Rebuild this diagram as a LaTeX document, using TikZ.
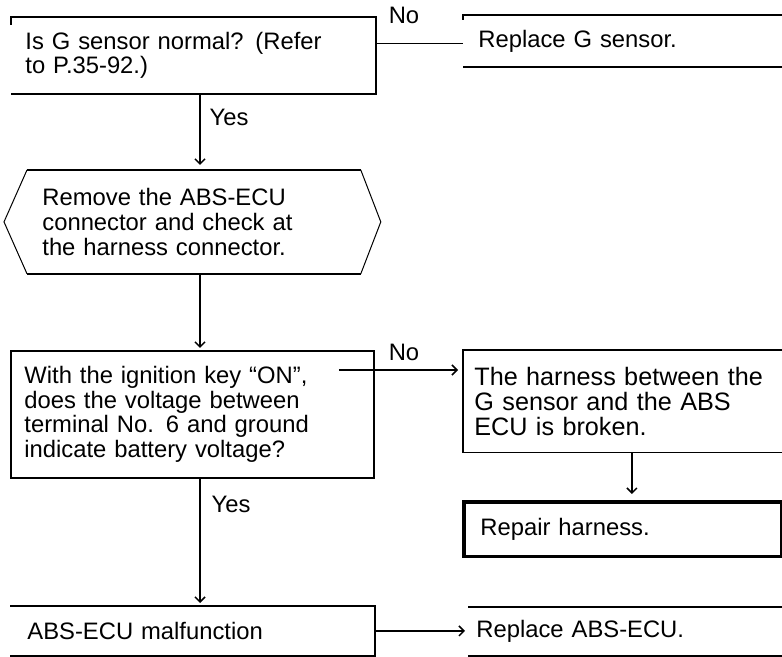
\documentclass[tikz,border=0pt]{standalone}
\usepackage{fontspec}
\setmainfont{Liberation Sans}[WordSpace=1.5]
\newfontfamily\plainsans{Liberation Sans}
\usetikzlibrary{arrows.meta}

\begin{document}
\begin{tikzpicture}[x=0.5pt,y=-0.5pt,
    txt/.style={anchor=north west,inner ysep=0pt,align=left,font=\fontsize{11.9}{12.3}\selectfont},
    lbl/.style={inner sep=0pt,font=\fontsize{11.9}{12.3}\selectfont},
    flow/.style={line width=0.75pt,-{Straight Barb[length=2.5pt,width=5pt]}},
    edge/.style={line width=0.75pt},
    rim/.style={line width=1.2pt}]
  \useasboundingbox (0,0) rectangle (782,657);
  \coordinate (col) at (200,0);

  % Draw nodes
  \node[txt,inner xsep=7pt,text width=168pt,minimum height=38pt] (chk1) at (11,17)
    {Is G sensor normal? (Refer\\to P.35-92.)};
  \node[txt,inner xsep=7.5pt,text width=153.5pt,minimum height=25.5pt] (rep1) at (463,15)
    {Replace G sensor.};
  \node[txt,inner xsep=7.5pt,text width=151.5pt,minimum height=51.5pt] (hx) at (27,170)
    {Remove the ABS-ECU\\connector and check at\\the harness connector.};
  \node[txt,inner xsep=6.5pt,text width=168pt,minimum height=63pt] (chk2) at (11,351)
    {With the ignition key “ON”,\\does the voltage between\\terminal No. 6 and ground\\indicate battery voltage?};
  \node[txt,inner xsep=5.5pt,text width=157.5pt,minimum height=51pt,
        font=\plainsans\fontsize{12.6}{12.5}\selectfont] (brk) at (463,350)
    {The harness between the\\G sensor and the ABS\\ECU is broken.};
  \node[txt,inner xsep=8pt,text width=142.5pt,minimum height=27pt] (rph) at (464,502)
    {Repair harness.};
  \node[txt,inner xsep=8.5pt,text width=165pt,minimum height=24.5pt] (fail) at (10,606)
    {ABS-ECU malfunction};
  \node[txt,inner xsep=4pt,text width=158pt,minimum height=24pt] (rep2) at (468,607)
    {Replace ABS-ECU.};

  % Draw outlines
  \draw[rim] ([yshift=-4pt]chk1.north west) -- (chk1.north west) -- (chk1.north east)
    -- (chk1.south east) -- (chk1.south west);
  \draw[rim] ([yshift=-2.5pt]rep1.north west) -- (rep1.north west) -- (rep1.north east);
  \draw[rim] (rep1.south west) -- (rep1.south east);
  \draw[line width=0.5pt] (hx.north west) -- ([xshift=-11.5pt]hx.west) -- (hx.south west);
  \draw[line width=0.5pt] (hx.north east) -- ([xshift=10pt]hx.east) -- (hx.south east);
  \draw[rim] (hx.north west) -- (hx.north east);
  \draw[rim] (hx.south west) -- (hx.south east);
  \draw[rim] (chk2.north west) rectangle (chk2.south east);
  \draw[line width=0.6pt] (brk.north west) rectangle (brk.south east);
  \draw[line width=1.6pt] (rph.north west) rectangle (rph.south east);
  \draw[rim] (fail.north west) -- (fail.north east) -- (fail.south east) -- (fail.south west);
  \foreach \s in {north,south} \draw[rim] (rep2.\s\space west) -- (rep2.\s\space east);

  % Draw edges
  \coordinate (no1) at ([yshift=6pt]chk1.east);
  \draw[edge] (no1) -- (no1 -| rep1.west);
  \draw[flow,shorten >=2.5pt] (chk1.south -| col) -- (hx.north -| col);
  \draw[flow,shorten >=1.5pt] (hx.south -| col) -- (chk2.north -| col);
  \coordinate (no2) at ([shift={(-17.5pt,-9.5pt)}]chk2.north east);
  \draw[flow,shorten >=2.5pt] (no2) -- (no2 -| brk.west);
  \draw[flow,shorten >=4pt] (brk.south) -- (brk.south |- rph.north);
  \draw[flow,shorten >=1.5pt] (chk2.south -| col) -- (fail.north -| col);
  \draw[flow,shorten >=1.5pt] (fail.east) -- (fail.east -| rep2.west);

  % Labels
  \node[lbl] (no1lbl) at (404,15) {No};
  \node[lbl] (yes1lbl) at (229,117) {Yes};
  \node[lbl] (no2lbl) at (404,352) {No};
  \node[lbl] (yes2lbl) at (231,504) {Yes};
\end{tikzpicture}
\end{document}
